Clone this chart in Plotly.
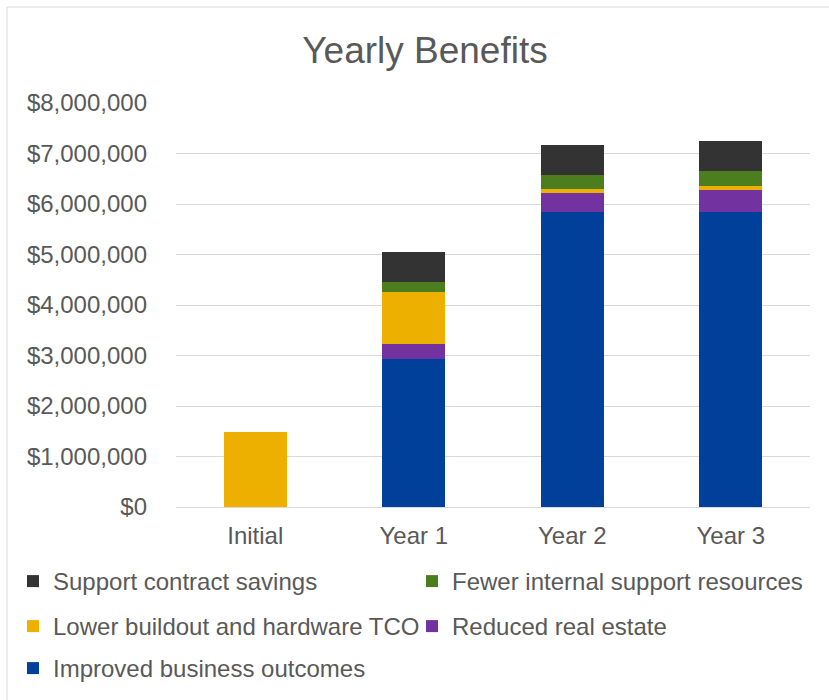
import plotly.graph_objects as go

categories = ["Initial", "Year 1", "Year 2", "Year 3"]
improved_business_outcomes = [0, 2930000, 5850000, 5850000]
reduced_real_estate = [0, 290000, 360000, 430000]
lower_buildout_hardware_tco = [1490000, 1040000, 80000, 80000]
fewer_internal_support = [0, 190000, 280000, 290000]
support_contract_savings = [0, 590000, 600000, 600000]

series = [
    ("Improved business outcomes", improved_business_outcomes, "#00409a", "legend5"),
    ("Reduced real estate", reduced_real_estate, "#7232a0", "legend4"),
    ("Lower buildout and hardware TCO", lower_buildout_hardware_tco, "#edb000", "legend3"),
    ("Fewer internal support resources", fewer_internal_support, "#4c7d1f", "legend2"),
    ("Support contract savings", support_contract_savings, "#333333", "legend"),
]

FONT = "Liberation Sans, Arial, sans-serif"
TXT = "#595959"

fig = go.Figure()
for name, vals, color, lg in series:
    fig.add_trace(go.Bar(x=categories, y=vals, name=name, legend=lg,
                         marker=dict(color=color, line=dict(width=0))))


def legend_at(xleft, ytop):
    return dict(orientation="h", xref="container", yref="container",
                x=xleft/829, y=1-ytop/700, yanchor="top", xanchor="left",
                bgcolor="rgba(0,0,0,0)",
                font=dict(family=FONT, size=24, color=TXT))


fig.update_layout(
    width=829, height=700,
    barmode="stack", bargap=0.6,
    paper_bgcolor="white", plot_bgcolor="white",
    margin=dict(l=176, r=19, t=103, b=193, autoexpand=False),
    title=dict(text="Yearly Benefits", x=425/829, xref="container", xanchor="center",
               y=1-50/700, yref="container", yanchor="middle",
               font=dict(family=FONT, size=37, color=TXT)),
    font=dict(family=FONT, color=TXT),
    yaxis=dict(range=[0, 8000000], dtick=1000000, tickformat="$,.0f",
               gridcolor="#d9d9d9", gridwidth=1, zeroline=False,
               tickfont=dict(family=FONT, size=24, color=TXT), ticklen=0,
               ticks="", ticklabelstandoff=28),
    xaxis=dict(showline=True, linecolor="#d9d9d9", linewidth=1,
               tickfont=dict(family=FONT, size=24, color=TXT), ticks="",
               ticklabelstandoff=7),
    legend=legend_at(13, 559),
    legend2=legend_at(412, 559),
    legend3=legend_at(13, 604),
    legend4=legend_at(412, 604),
    legend5=legend_at(13, 646),
    showlegend=True,
)

fig.add_shape(type="rect", xref="paper", yref="paper",
              x0=(7-176)/634, x1=1.2, y0=-0.6, y1=(507-7)/404,
              line=dict(color="#d9d9d9", width=1), layer="below")

fig.write_html("out.html")
